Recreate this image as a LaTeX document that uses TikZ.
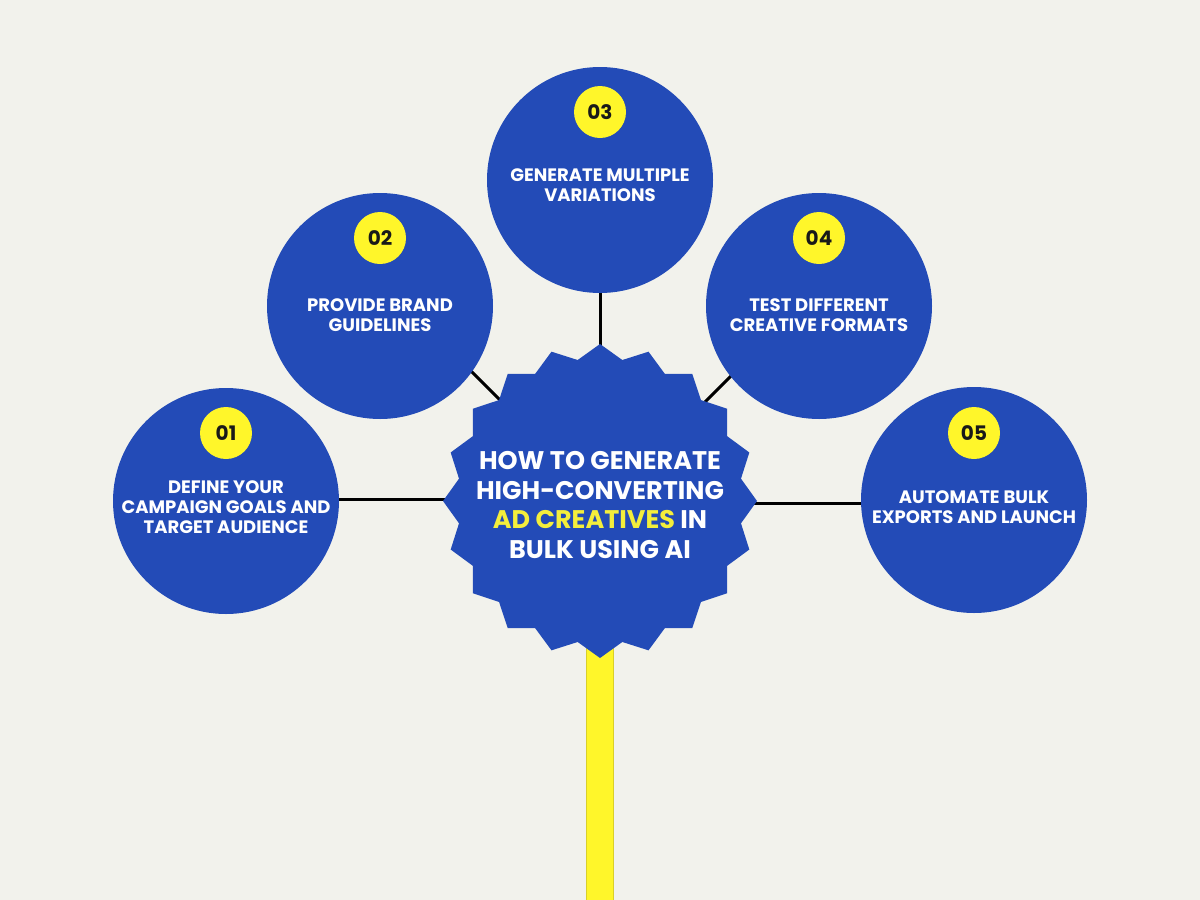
\documentclass[tikz,border=0pt]{standalone}
\usepackage{fontspec}
\setmainfont{Poppins}
\usetikzlibrary{shapes.geometric}
\definecolor{bg}{HTML}{F2F2EC}
\definecolor{cblue}{HTML}{234BB7}
\definecolor{cyel}{HTML}{FFF62A}
\definecolor{cyeldk}{HTML}{D9CF2A}
\definecolor{tyel}{HTML}{F4EE3C}
\tikzset{
  stepcircle/.style={circle, fill=cblue, minimum size=226pt, inner sep=0pt},
  badge/.style={circle, fill=cyel, minimum size=52pt, inner sep=0pt, font=\bfseries\fontsize{20}{20}\selectfont, text=black!90},
  steptext/.style={align=center, text=white, font=\bfseries\fontsize{18}{20}\selectfont, inner sep=0pt},
  link/.style={draw=black, line width=3pt},
}
\begin{document}
\begin{tikzpicture}[x=1pt,y=-1pt]
\fill[bg] (0,0) rectangle (1200,900);
\useasboundingbox (0,0) rectangle (1200,900);
% nodes (positions)
\coordinate (p1) at (226,501);
\coordinate (p2) at (380,306);
\coordinate (p3) at (600,180);
\coordinate (p4) at (819,306);
\coordinate (p5) at (974,500);
\coordinate (ps) at (600,501);
\coordinate (stembottom) at (600,900);
% stem
\draw[cyeldk, line width=28pt] (ps) -- (stembottom);
\draw[cyel, line width=26pt] (ps) -- (stembottom);
% connectors
\draw[link] ([yshift=2pt]p1) -- ([yshift=2pt]ps);
\draw[link] (p3) -- (ps);
\draw[link] ([yshift=-2pt]ps) -- ([yshift=-3pt]p5);
\draw[link] (p2) ++(80,54) -- ++(45,45);
\draw[link] (p4) ++(-78,60) -- ++(-40,40);
% circles
\node[stepcircle] (c1) at (p1) {};
\node[stepcircle] (c2) at (p2) {};
\node[stepcircle] (c3) at (p3) {};
\node[stepcircle] (c4) at (p4) {};
\node[stepcircle] (c5) at (p5) {};
% star
\node[star, star points=20, star point ratio=1.10, minimum size=314pt, inner sep=0pt, fill=cblue] (star) at (ps) {};
% badges
\node[badge] (b1) at ([yshift=68pt]c1.center) {01};
\node[badge] (b2) at ([yshift=68pt]c2.center) {02};
\node[badge] (b3) at ([yshift=68pt]c3.center) {03};
\node[badge] (b4) at ([yshift=68pt]c4.center) {04};
\node[badge] (b5) at ([yshift=67pt]c5.center) {05};
% texts
\node[steptext] (t1) at ([yshift=-6pt]c1.center) {DEFINE YOUR\\CAMPAIGN GOALS AND\\TARGET AUDIENCE};
\node[steptext] (t2) at ([yshift=-9pt]c2.center) {PROVIDE BRAND\\GUIDELINES};
\node[steptext] (t3) at ([yshift=-5pt]c3.center) {GENERATE MULTIPLE\\VARIATIONS};
\node[steptext] (t4) at ([yshift=-9pt]c4.center) {TEST DIFFERENT\\CREATIVE FORMATS};
\node[steptext] (t5) at ([yshift=-7pt]c5.center) {AUTOMATE BULK\\EXPORTS AND LAUNCH};
\node[align=center, text=white, font=\bfseries\fontsize{25.5}{29.5}\selectfont, inner sep=0pt] (title) at ([yshift=-4pt]star.center)
  {HOW TO GENERATE\\HIGH-CONVERTING\\\textcolor{tyel}{AD CREATIVES} IN\\BULK USING AI};
\end{tikzpicture}
\end{document}
